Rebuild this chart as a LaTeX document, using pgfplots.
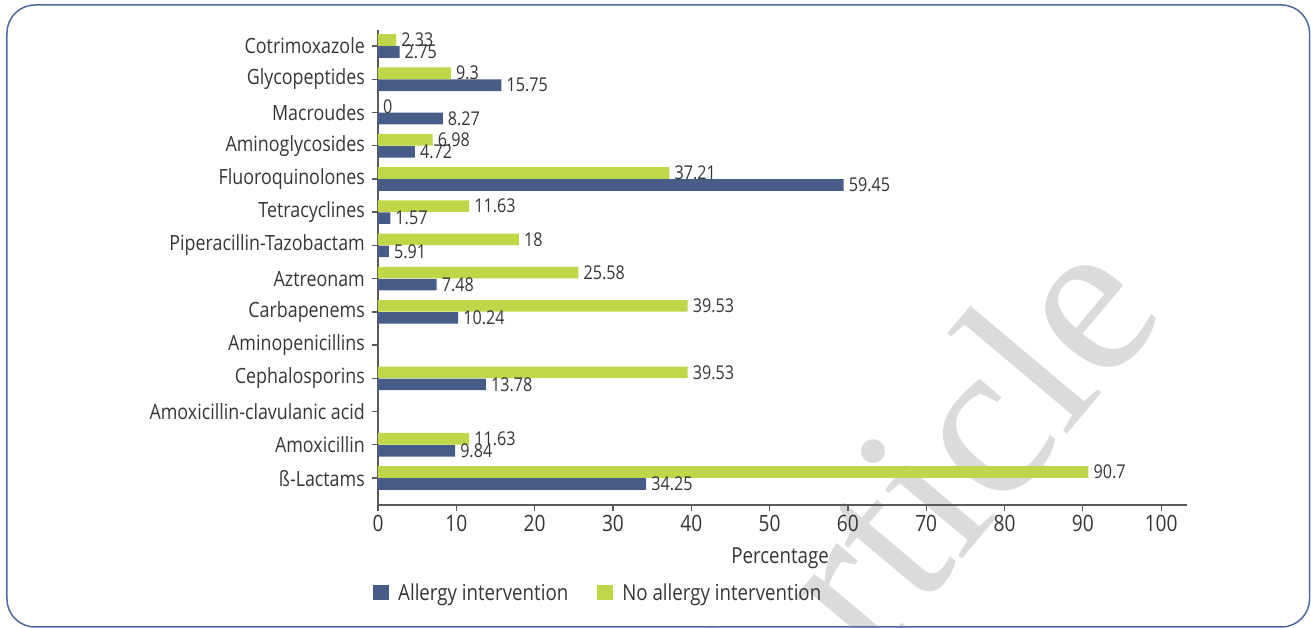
\documentclass[border=0pt]{standalone}
\usepackage{pgfplots}
\usepackage{pgfplotstable}
\pgfplotsset{compat=1.18}
\usepackage{fontspec}
\setmainfont{Open Sans}[FakeStretch=0.85]
\newfontfamily\wmfont{Liberation Serif}
\definecolor{barblue}{HTML}{485C88}
\definecolor{bargreen}{HTML}{BDD748}
\definecolor{txt}{HTML}{363636}
\definecolor{axiscol}{HTML}{5A5A5A}
\definecolor{framecol}{HTML}{4F6A9C}
\definecolor{wmcol}{HTML}{DADBDD}

\pgfplotstableread{
y v lab
0 34.25 34.25
1 9.84 9.84
3 13.78 13.78
5 10.24 10.24
6 7.48 7.48
7 1.4 5.91
8 1.57 1.57
9 59.45 59.45
10 4.72 4.72
11 8.27 8.27
12 15.75 15.75
13 2.75 2.75
}\allergy

\pgfplotstableread{
y v lab
0 90.7 90.7
1 11.63 11.63
3 39.53 39.53
5 39.53 39.53
6 25.58 25.58
7 18 18
8 11.63 11.63
9 37.21 37.21
10 6.98 6.98
11 0 0
12 9.3 9.3
13 2.33 2.33
}\noallergy

\begin{document}
\begin{tikzpicture}
\useasboundingbox (-378pt,-123pt) rectangle (933pt,505pt);
\node[rotate=50, anchor=base west, text=wmcol, font=\fontsize{225}{225}\wmfont\selectfont, inner sep=0pt] at (389pt,-287pt) {Article};
\draw[framecol, line width=1.5pt, rounded corners=28pt] (-371pt,500pt) rectangle (931.5pt,-122pt);
\begin{axis}[
  at={(0pt,0pt)}, anchor=south west,
  scale only axis, width=809pt, height=475pt,
  xmin=0, xmax=103.3, ymin=-0.81, ymax=13.48,
  axis lines*=left,
  axis line style={axiscol, line width=1.3pt},
  tick align=outside, major tick length=6pt,
  tick style={axiscol, line width=1.3pt},
  xtick={0,10,...,100},
  ytick={0,1,...,13},
  yticklabels={ß-Lactams, Amoxicillin, Amoxicillin-clavulanic acid, Cephalosporins, Aminopenicillins, Carbapenems, Aztreonam, Piperacillin-Tazobactam, Tetracyclines, Fluoroquinolones, Aminoglycosides, Macroudes, Glycopeptides, Cotrimoxazole},
  /pgf/number format/assume math mode=true,
  xticklabel style={font=\fontsize{22.5}{22.5}\selectfont, text=txt, inner sep=0pt, yshift=-4pt},
  yticklabel style={font=\fontsize{21}{21}\selectfont, text=txt, inner sep=0pt, xshift=-7pt},
  xlabel={Percentage},
  xlabel style={at={(axis description cs:0.497,-0.124)}, anchor=base, font=\fontsize{22}{22}\selectfont, text=txt, inner sep=0pt},
  clip=false,
  legend columns=2,
  legend style={at={(axis description cs:-0.0062,-0.184)}, anchor=west, draw=none, fill=none, inner sep=0pt, font=\fontsize{22}{22}\selectfont, text=txt, nodes={inner sep=0pt},
    /tikz/every odd column/.append style={column sep=9.5pt},
    /tikz/every even column/.append style={column sep=29pt}},
  legend cell align=left,
  every node near coord/.append style={anchor=west, inner sep=0pt, xshift=5pt, font=\fontsize{19}{19}\selectfont, text=txt},
]
\addplot[xbar, fill=barblue, draw=none, bar width=11.7pt, bar shift=-6pt, nodes near coords, point meta=explicit symbolic,
  every node near coord/.append style={yshift=-6pt},
  legend image code/.code={\fill[barblue] (0pt,-7.5pt) rectangle (15.5pt,7.5pt);}]
  table[x=v, y=y, meta=lab] {\allergy};
\addlegendentry{Allergy intervention}
\addplot[xbar, fill=bargreen, draw=none, bar width=11.7pt, bar shift=6pt, nodes near coords, point meta=explicit symbolic,
  every node near coord/.append style={yshift=6pt},
  legend image code/.code={\fill[bargreen] (0pt,-7.5pt) rectangle (15.5pt,7.5pt);}]
  table[x=v, y=y, meta=lab] {\noallergy};
\addlegendentry{No allergy intervention}
\end{axis}
\end{tikzpicture}
\end{document}
